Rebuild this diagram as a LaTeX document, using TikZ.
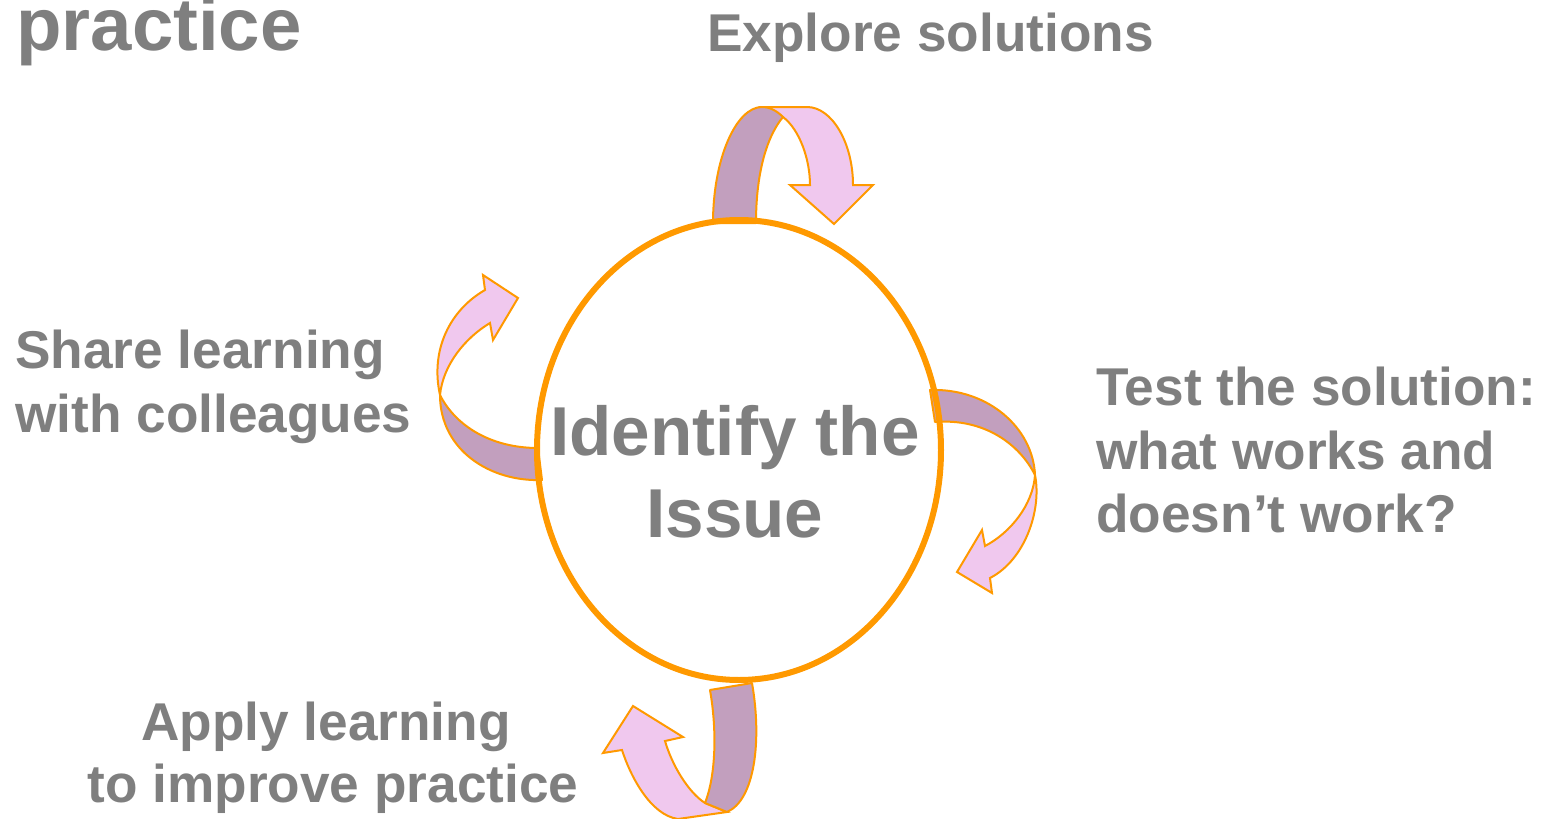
\documentclass[tikz,border=0pt]{standalone}
\usepackage{fontspec}
\setmainfont{Liberation Sans}
\usetikzlibrary{shapes.geometric}
\definecolor{txtgray}{HTML}{7F7F7F}
\definecolor{orng}{HTML}{FF9900}
\definecolor{darkband}{HTML}{C29FBE}
\definecolor{lightband}{HTML}{F0C8EE}
\tikzset{
  lbl/.style={inner sep=0pt, anchor=base west, text=txtgray, font=\fontsize{26.6}{32}\selectfont\bfseries},
  lblc/.style={lbl, anchor=base},
  back/.style={fill=darkband, draw=orng, line width=1pt, line join=round},
  front/.style={fill=lightband, draw=orng, line width=1pt, line join=miter},
}
\begin{document}
\begin{tikzpicture}[x=0.5pt,y=-0.5pt]
\useasboundingbox (0,0) rectangle (1544,819);
% title fragment
\node[lbl, font=\fontsize{37.2}{44}\selectfont\bfseries] (title) at (16,50) {practice};
% labels
\node[lbl] (explore) at (707,52) {Explore solutions};
\node[lbl] (share1) at (15,368) {Share learning};
\node[lbl] (share2) at (15,432) {with colleagues};
\node[lbl] (test1) at (1096,405) {Test the solution:};
\node[lbl] (test2) at (1096,469) {what works and};
\node[lbl] (test3) at (1096,532) {doesn’t work?};
\node[lblc] (apply1) at (326,740) {Apply learning};
\node[lblc] (apply2) at (333,802) {to improve practice};
% top arrow
\path[front] (762,107) -- (807,107)
  .. controls (832,107) and (853,143) .. (853,185)
  -- (873,185) -- (834,224) -- (790,185) -- (810,185)
  .. controls (810,160) and (800,130) .. (783,117) -- cycle;
\path[back] (713,223)
  .. controls (713,159) and (736,107) .. (762,107)
  .. controls (770,107) and (777,111) .. (783,117)
  .. controls (768,135) and (756,170) .. (756,223) -- cycle;
% right arrow
\path[front] (1035,475)
  .. controls (1042,510) and (1025,560) .. (990,578)
  -- (992,593) -- (957,572) -- (982,530) -- (985,546)
  .. controls (1010,533) and (1033,505) .. (1035,475) -- cycle;
\path[back] (930,390)
  .. controls (988,388) and (1033,428) .. (1035,475)
  .. controls (1020,445) and (985,418) .. (935,422) -- cycle;
% left arrow
\path[front] (440,395)
  .. controls (430,350) and (450,310) .. (485,290)
  -- (483,275) -- (518,298) -- (493,340) -- (490,323)
  .. controls (465,338) and (443,365) .. (440,395) -- cycle;
\path[back] (542,480)
  .. controls (490,482) and (440,450) .. (440,395)
  .. controls (455,425) and (490,448) .. (538,448) -- cycle;
% bottom arrow
\path[front] (727,812) -- (678,819)
  .. controls (650,815) and (630,775) .. (622,750)
  -- (603,753) -- (633,706) -- (683,737) -- (665,741)
  .. controls (672,765) and (688,792) .. (705,803) -- cycle;
\path[back] (710,690) -- (752,683)
  .. controls (762,740) and (755,800) .. (727,812)
  -- (705,803)
  .. controls (716,775) and (717,730) .. (710,690) -- cycle;
% central ellipse
\node[draw=orng, line width=3pt, ellipse, minimum width=202pt, minimum height=230pt, inner sep=0pt] (cycle) at (739,450) {};
\node[lblc, font=\fontsize{34.6}{41}\selectfont\bfseries] (id1) at (735,455) {Identify the};
\node[lblc, font=\fontsize{34.6}{41}\selectfont\bfseries] (id2) at (735,537) {Issue};
\end{tikzpicture}
\end{document}
